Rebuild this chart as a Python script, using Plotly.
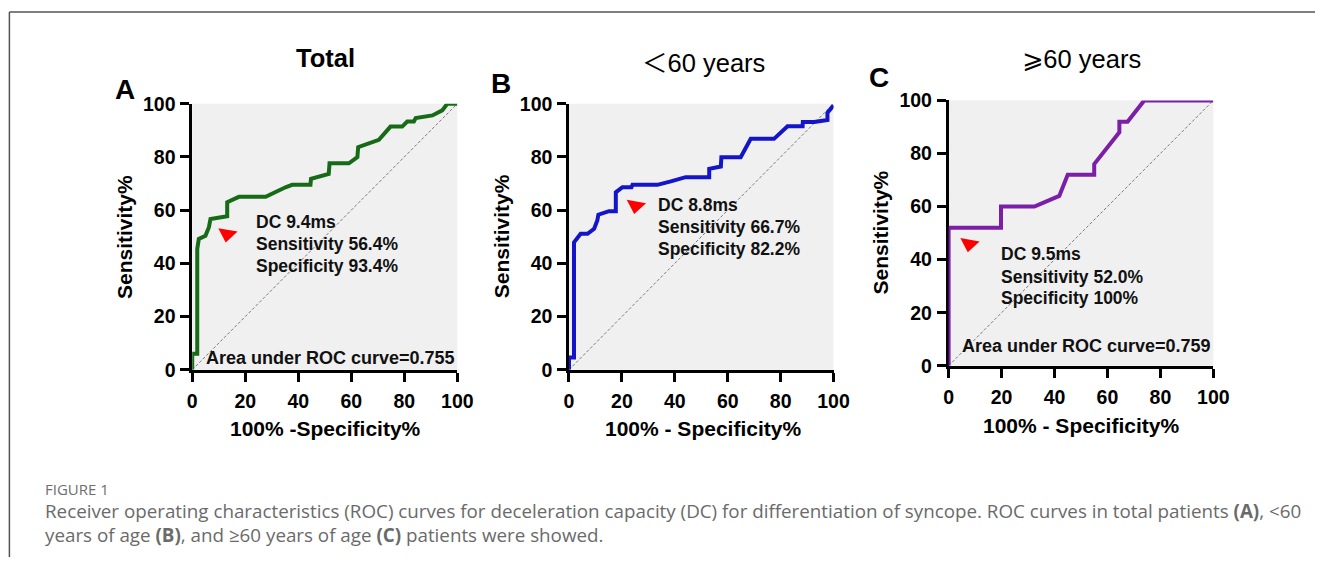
import plotly.graph_objects as go

W, H = 1331, 568

# ---------------- data ----------------
# Panel A: Total
a_fpr = [0, 0, 1.9, 1.9, 2.5, 5.0, 6.3, 6.9, 13.2, 13.2, 17.6, 27.7, 35.2, 37.7, 44.6, 44.8,
         51.5, 51.8, 59.1, 62.3, 62.6, 70.4, 74.8, 79.2, 81.1, 83.6, 84.3, 90.6, 94.3, 96.2, 100]
a_tpr = [0, 6.0, 6.0, 45.4, 49.2, 50.4, 53.6, 56.7, 57.7, 63.0, 65.0, 65.0, 68.6, 69.5, 69.5, 71.8,
         73.6, 77.6, 77.6, 79.9, 83.7, 86.4, 91.4, 91.4, 93.3, 93.3, 94.6, 95.6, 97.5, 100, 100]
a_cut = (13.2, 51.0)
a_info = ["DC 9.4ms", "Sensitivity 56.4%", "Specificity 93.4%"]
a_auc = 0.755

# Panel B: <60 years
b_fpr = [0, 0, 1.9, 1.9, 4.4, 7.0, 9.5, 10.7, 11.1, 15.1, 17.7, 17.7, 20.2, 23.6, 24.0, 33.4,
         38.5, 44.1, 53.0, 53.0, 57.4, 57.6, 64.9, 66.8, 68.7, 77.5, 82.6, 88.3, 88.4, 92.7,
         97.7, 97.7, 100]
b_tpr = [0, 4.6, 4.6, 47.9, 51.1, 51.1, 53.0, 56.1, 58.3, 59.6, 59.6, 66.7, 68.6, 68.6, 69.5, 69.5,
         70.8, 72.4, 72.4, 75.5, 76.4, 79.9, 79.9, 83.1, 86.8, 86.8, 91.5, 91.5, 93.1, 93.1,
         93.9, 96.6, 99.4]
b_cut = (25.2, 61.7)
b_info = ["DC 8.8ms", "Sensitivity 66.7%", "Specificity 82.2%"]
b_auc = 0.743

# Panel C: >=60 years
c_fpr = [0, 0, 19.8, 19.8, 32.4, 41.8, 45.0, 55.0, 55.0, 64.5, 64.5, 67.6, 73.9, 100]
c_tpr = [0, 52.0, 52.0, 60.0, 60.0, 64.0, 72.0, 72.0, 76.0, 88.0, 92.0, 92.0, 100, 100]
c_cut = (7.8, 45.9)
c_info = ["DC 9.5ms", "Sensitivity 52.0%", "Specificity 100%"]
c_auc = 0.759

tick_vals = [0, 20, 40, 60, 80, 100]
panel_titles = ["Total", "＜60 years", "⩾60 years"]
panel_letters = ["A", "B", "C"]
x_titles = ["100% -Specificity%", "100% - Specificity%", "100% - Specificity%"]
y_title = "Sensitivity%"
caption_head = "FIGURE 1"
caption_l1 = ("Receiver operating characteristics (ROC) curves for deceleration capacity (DC) for "
              "differentiation of syncope. ROC curves in total patients <b>(A)</b>, &lt;60")
caption_l2 = "years of age <b>(B)</b>, and ≥60 years of age <b>(C)</b> patients were showed."

# ---------------- layout helpers ----------------
# map target picture pixel -> page pixel (the photographed picture is slightly inset)
SX, BX, SY, BY = 0.9837, 4.6, 0.960, 10.7

def px(d):
    return min(max(((d - BX) / SX) / W, 0), 1)

def py(d):
    return min(max(1 - ((d - BY) / SY) / H, 0), 1)

FONT = "Liberation Sans, Arial, sans-serif"
colors = ["#176b17", "#1414c8", "#7b1fa6"]

panels = [
    dict(fpr=a_fpr, tpr=a_tpr, cut=a_cut, info=a_info, auc=a_auc,
         xd=(191.7, 456.7), yd=(369.0, 103.3), info_x=23.3, info_y=(55.4, 47.3, 39.1),
         auc_pos=(100, 4.6),
         letter=(125, 89), title=(325, 58), ytit=(124, 236), xtit=(325, 428)),
    dict(fpr=b_fpr, tpr=b_tpr, cut=b_cut, info=b_info, auc=b_auc,
         xd=(568.3, 832.7), yd=(369.0, 103.3), info_x=32.8, info_y=(62.1, 53.6, 45.4),
         auc_pos=(101.5, 5.9),
         letter=(500, 83), title=(703, 63), ytit=(501, 236), xtit=(702, 428)),
    dict(fpr=c_fpr, tpr=c_tpr, cut=c_cut, info=c_info, auc=c_auc,
         xd=(947.7, 1212.3), yd=(365.0, 100.0), info_x=19.1, info_y=(42.2, 33.6, 25.4),
         auc_pos=(100, 7.5),
         letter=(878, 77), title=(1081, 59), ytit=(880, 232), xtit=(1080, 425)),
]

fig = go.Figure()
annotations = []
layout = {}

for i, p in enumerate(panels):
    n = "" if i == 0 else str(i + 1)
    xa, ya = "x" + n, "y" + n
    fig.add_trace(go.Scatter(x=[0, 100], y=[0, 100], mode="lines", xaxis=xa, yaxis=ya,
                             line=dict(color="#7a7a7a", width=1, dash="3px,2px"),
                             hoverinfo="skip", showlegend=False))
    fig.add_trace(go.Scatter(x=p["fpr"], y=p["tpr"], mode="lines", xaxis=xa, yaxis=ya,
                             line=dict(color=colors[i], width=4),
                             showlegend=False))
    fig.add_trace(go.Scatter(x=[p["cut"][0]], y=[p["cut"][1]], mode="markers", xaxis=xa, yaxis=ya,
                             marker=dict(symbol="triangle-down", size=17, color="#ff0000", angle=10),
                             showlegend=False, cliponaxis=False))
    axis_common = dict(range=[0, 100], showline=True, linecolor="black", linewidth=2.5,
                       ticks="outside", ticklen=9, tickwidth=2.5, tickcolor="black",
                       tickvals=tick_vals, showgrid=False, zeroline=False,
                       tickfont=dict(family=FONT, size=19.5, color="black", weight="bold"),
                       layer="below traces")
    layout["xaxis" + n] = dict(axis_common, domain=[px(p["xd"][0]), px(p["xd"][1])],
                               anchor=ya, ticklabelstandoff=3)
    layout["yaxis" + n] = dict(axis_common, domain=[py(p["yd"][0]), py(p["yd"][1])],
                               anchor=xa, ticklabelstandoff=1)

    for line_text, yv in zip(p["info"], p["info_y"]):
        annotations.append(dict(x=p["info_x"], y=yv, xref=xa, yref=ya,
                                text=line_text, showarrow=False, align="left",
                                xanchor="left", yanchor="middle",
                                font=dict(family=FONT, size=17.5, color="#111", weight="bold")))
    annotations.append(dict(x=p["auc_pos"][0], y=p["auc_pos"][1], xref=xa, yref=ya,
                            text=f"Area under ROC curve={p['auc']:.3f}", showarrow=False,
                            xanchor="right", yanchor="middle",
                            font=dict(family=FONT, size=18, color="#111", weight="bold")))
    annotations.append(dict(x=px(p["letter"][0]), y=py(p["letter"][1]), xref="paper", yref="paper",
                            text=panel_letters[i], showarrow=False, xanchor="center", yanchor="middle",
                            font=dict(family=FONT, size=28, color="black", weight="bold")))
    annotations.append(dict(x=px(p["title"][0]), y=py(p["title"][1]), xref="paper", yref="paper",
                            text=panel_titles[i], showarrow=False, xanchor="center", yanchor="middle",
                            font=dict(family=FONT + ", Noto Sans CJK SC, DejaVu Sans", size=25.5,
                                      color="black", weight="bold" if i == 0 else "normal")))
    annotations.append(dict(x=px(p["ytit"][0]), y=py(p["ytit"][1]), xref="paper", yref="paper",
                            text=y_title, showarrow=False, textangle=-90,
                            xanchor="center", yanchor="middle",
                            font=dict(family=FONT, size=21, color="black", weight="bold")))
    annotations.append(dict(x=px(p["xtit"][0]), y=py(p["xtit"][1]), xref="paper", yref="paper",
                            text=x_titles[i], showarrow=False,
                            xanchor="center", yanchor="middle",
                            font=dict(family=FONT, size=21, color="black", weight="bold")))

# caption
annotations.append(dict(x=px(43), y=py(488), xref="paper", yref="paper", text=caption_head,
                        showarrow=False, xanchor="left", yanchor="middle",
                        font=dict(family="Open Sans, sans-serif", size=15, color="#6e6e6e")))
annotations.append(dict(x=px(43), y=py(510), xref="paper", yref="paper", text=caption_l1,
                        showarrow=False, xanchor="left", yanchor="middle",
                        font=dict(family="Open Sans, sans-serif", size=18.8, color="#6a6a6a")))
annotations.append(dict(x=px(43), y=py(534), xref="paper", yref="paper", text=caption_l2,
                        showarrow=False, xanchor="left", yanchor="middle",
                        font=dict(family="Open Sans, sans-serif", size=18.8, color="#6a6a6a")))

border_y = min(py(9), 1 - 1.0 / H)
shapes = [
    dict(type="line", xref="paper", yref="paper", x0=px(9), x1=1, y0=border_y, y1=border_y,
         line=dict(color="#555555", width=1.5)),
    dict(type="line", xref="paper", yref="paper", x0=px(9), x1=px(9), y0=border_y, y1=0,
         line=dict(color="#555555", width=1.5)),
]

fig.update_layout(
    width=W, height=H, margin=dict(l=0, r=0, t=0, b=0),
    paper_bgcolor="white", plot_bgcolor="#f0f0f0",
    showlegend=False, annotations=annotations, shapes=shapes, **layout,
)

fig.write_html("out.html", config={"displayModeBar": False},
               post_script="document.body.style.margin='0px';")
